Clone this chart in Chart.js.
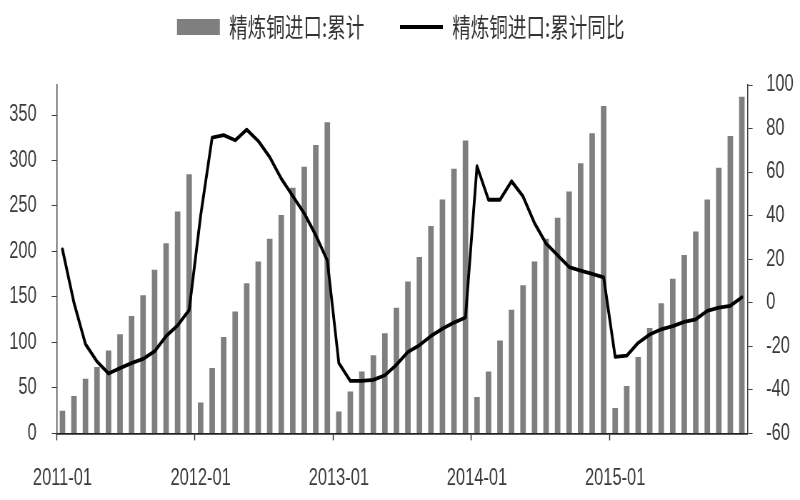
<!DOCTYPE html>
<html>
<head>
<meta charset="utf-8">
<script src="https://cdn.jsdelivr.net/npm/chart.js@4.4.1/dist/chart.umd.min.js"></script>
<style>
  html, body { margin: 0; padding: 0; background: #ffffff; overflow: hidden; width: 800px; height: 500px; }
  #wrap { width: 1120px; height: 500px; transform: scaleX(0.7142857); transform-origin: 0 0; }
</style>
</head>
<body>
<div id="wrap">
<canvas id="c" width="1120" height="500" style="width:1120px;height:500px;display:block;"></canvas>
</div>
<script>
const categories = [
  '2011-01','2011-02','2011-03','2011-04','2011-05','2011-06','2011-07','2011-08','2011-09','2011-10','2011-11','2011-12',
  '2012-01','2012-02','2012-03','2012-04','2012-05','2012-06','2012-07','2012-08','2012-09','2012-10','2012-11','2012-12',
  '2013-01','2013-02','2013-03','2013-04','2013-05','2013-06','2013-07','2013-08','2013-09','2013-10','2013-11','2013-12',
  '2014-01','2014-02','2014-03','2014-04','2014-05','2014-06','2014-07','2014-08','2014-09','2014-10','2014-11','2014-12',
  '2015-01','2015-02','2015-03','2015-04','2015-05','2015-06','2015-07','2015-08','2015-09','2015-10','2015-11','2015-12'
];

// 精炼铜进口:累计 (left axis)
const importCumulative = [
  25, 41, 60, 73, 91, 109, 129, 152, 180, 209, 244, 285,
  34, 72, 106, 134, 165, 189, 214, 240, 270, 293, 317, 342,
  24, 46, 68, 86, 110, 138, 167, 194, 228, 257, 291, 322,
  40, 68, 102, 136, 163, 189, 214, 237, 266, 297, 330, 360,
  28, 52, 84, 116, 143, 170, 196, 222, 257, 292, 327, 370
];

// 精炼铜进口:累计同比 (right axis, %)
const importYoY = [
  24.5, 0, -19, -27, -32.5, -30, -27.7, -25.8, -22.3, -15.3, -10.4, -3.4,
  40, 75.8, 77, 74.6, 79.5, 74.3, 66.9, 57, 49, 41, 31, 19.4,
  -27.7, -35.9, -35.9, -35.4, -33.3, -28.5, -22.6, -19.5, -15.3, -11.9, -9.1, -6.8,
  62.7, 47.3, 47.3, 55.8, 48.8, 36.5, 27.2, 21.8, 16.4, 14.8, 13.3, 11.7,
  -24.9, -24.3, -18.4, -14.6, -12.2, -10.7, -8.8, -7.6, -3.7, -2.2, -1.4, 2.5
];

const leftTicks = [0, 50, 100, 150, 200, 250, 300, 350];
const rightTicks = [-60, -40, -20, 0, 20, 40, 60, 80, 100];
const seriesNames = ['精炼铜进口:累计', '精炼铜进口:累计同比'];

const tickFont = { family: "'Liberation Sans', Arial, sans-serif", size: 23 };
const tickColor = '#3a3a3a';

new Chart(document.getElementById('c'), {
  data: {
    labels: categories,
    datasets: [
      {
        type: 'line',
        label: seriesNames[1],
        data: importYoY,
        yAxisID: 'y1',
        borderColor: '#000000',
        backgroundColor: '#000000',
        borderWidth: 3.8,
        borderJoinStyle: 'round',
        borderCapStyle: 'round',
        pointRadius: 0,
        tension: 0,
        fill: false
      },
      {
        type: 'bar',
        label: seriesNames[0],
        data: importCumulative,
        yAxisID: 'y',
        backgroundColor: '#7f7f7f',
        borderWidth: 0,
        barPercentage: 0.48,
        categoryPercentage: 1
      }
    ]
  },
  options: {
    responsive: false,
    animation: false,
    devicePixelRatio: 1,
    layout: { padding: { top: -36, left: -8, right: -10, bottom: -16 } },
    plugins: {
      tooltip: { enabled: false },
      title: {
        display: true,
        text: '',
        weight: 500,
        font: { size: 10, lineHeight: 1.2 },
        padding: { top: 23, bottom: 0 }
      },
      legend: {
        display: true,
        position: 'top',
        reverse: true,
        labels: {
          usePointStyle: true,
          pointStyleWidth: 60,
          boxHeight: 16,
          padding: 50,
          color: '#333333',
          font: { family: "'Noto Sans CJK SC', sans-serif", size: 26 },
          generateLabels: (chart) => {
            const items = Chart.defaults.plugins.legend.labels.generateLabels(chart);
            items.forEach(it => {
              if (it.datasetIndex === 0) {
                it.pointStyle = 'line';
                it.lineWidth = 4;
                it.strokeStyle = '#000000';
              } else {
                it.pointStyle = 'rect';
                it.lineWidth = 0;
                it.fillStyle = '#7f7f7f';
              }
            });
            return items;
          }
        }
      }
    },
    scales: {
      x: {
        type: 'category',
        offset: true,
        grid: {
          offset: true,
          drawOnChartArea: false,
          drawTicks: true,
          tickLength: 7,
          tickWidth: 1.4,
          tickColor: (ctx) => (ctx.index !== undefined && ctx.index % 12 === 0) ? '#222222' : 'rgba(0,0,0,0)'
        },
        border: { display: true, color: '#222222', width: 1.8 },
        ticks: {
          autoSkip: false,
          maxRotation: 0,
          minRotation: 0,
          padding: 24,
          color: tickColor,
          font: tickFont,
          callback: function(value, index) { return index % 12 === 0 ? categories[index] : ''; }
        }
      },
      y: {
        position: 'left',
        min: 0,
        max: 383,
        afterBuildTicks: (axis) => { axis.ticks = leftTicks.map(v => ({ value: v })); },
        grid: { drawOnChartArea: false, drawTicks: true, tickLength: 7, tickWidth: 1, tickColor: '#404040' },
        border: { display: true, color: '#404040', width: 1.5 },
        ticks: { padding: 21, color: tickColor, font: tickFont }
      },
      y1: {
        position: 'right',
        min: -60,
        max: 100,
        afterBuildTicks: (axis) => { axis.ticks = rightTicks.map(v => ({ value: v })); },
        grid: { drawOnChartArea: false, drawTicks: true, tickLength: 7, tickWidth: 1, tickColor: '#404040' },
        border: { display: true, color: '#404040', width: 1.5 },
        ticks: { padding: 19, color: tickColor, font: tickFont }
      }
    }
  }
});
</script>
</body>
</html>
